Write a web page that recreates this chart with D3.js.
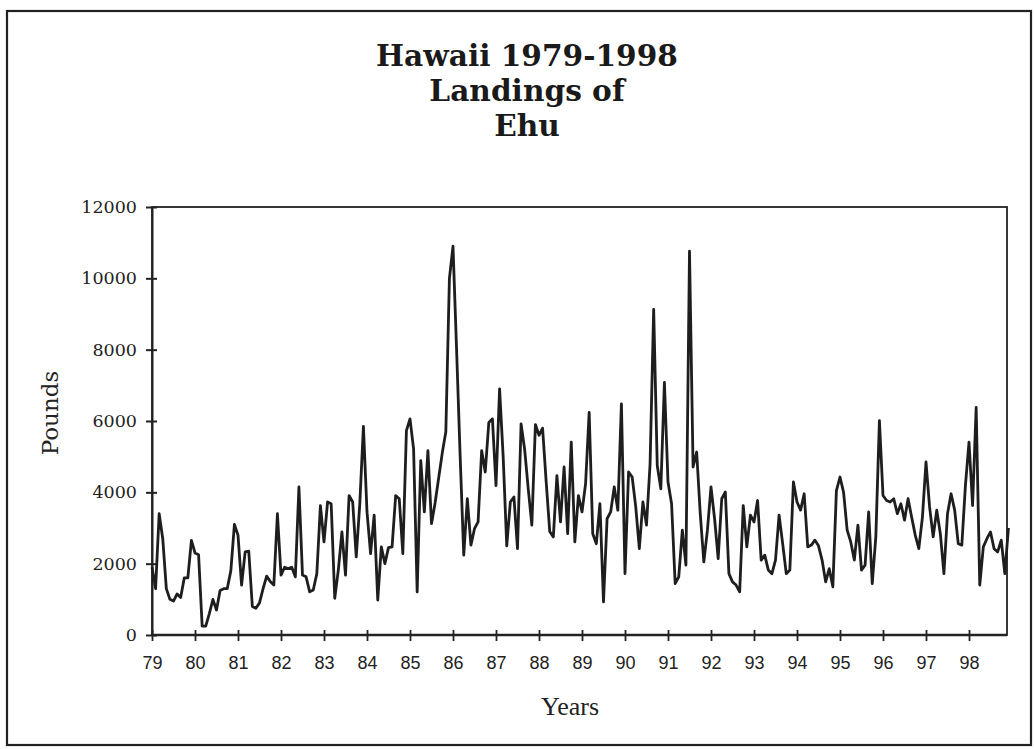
<!DOCTYPE html>
<html>
<head>
<meta charset="utf-8">
<script src="https://cdn.jsdelivr.net/npm/d3@7"></script>
<style>
  html, body { margin: 0; padding: 0; background: #fff; }
  svg { display: block; }
</style>
</head>
<body>
<svg id="chart" width="1034" height="749"></svg>
<script>
// ---- Data (monthly landings, pounds) ----
const titleLines = ["Hawaii 1979-1998", "Landings of", "Ehu"];
const yAxisTitle = "Pounds";
const xAxisTitle = "Years";
const yearTicks = [79,80,81,82,83,84,85,86,87,88,89,90,91,92,93,94,95,96,97,98];
const yTicks = [0,2000,4000,6000,8000,10000,12000];
const firstYear = 79;

const v1979 = [1900,1300,3400,2700,1300,1000,950,1150,1050,1600,1600,2650];
const v1980 = [2300,2250,250,250,600,1000,700,1250,1300,1300,1800,3100];
const v1981 = [2800,1400,2330,2350,800,750,900,1300,1650,1500,1400,3400];
const v1982 = [1680,1900,1860,1900,1630,4150,1680,1630,1210,1260,1720,3630];
const v1983 = [2610,3730,3680,1030,1820,2890,1680,3910,3730,2190,3700,5850];
const v1984 = [3450,2280,3360,980,2470,2000,2450,2470,3910,3820,2280,5730];
const v1985 = [6060,5220,1210,4890,3450,5170,3120,3700,4400,5100,5700,10000];
const v1986 = [10900,8000,5000,2240,3820,2520,2980,3170,5170,4570,5960,6060];
const v1987 = [4190,6900,5000,2500,3730,3870,2420,5920,5200,4100,3080,5900];
const v1988 = [5600,5800,4300,2900,2750,4470,3170,4710,2840,5410,2610,3910];
const v1989 = [3450,4240,6240,2840,2560,3680,930,3260,3450,4150,3500,6480];
const v1990 = [1720,4570,4430,3590,2420,3730,3080,4800,9130,4750,4100,7080];
const v1991 = [4290,3680,1440,1630,2940,1960,10760,4710,5130,3400,2050,2940];
const v1992 = [4150,3260,2140,3820,4010,1720,1490,1400,1210,3630,2470,3360];
const v1993 = [3170,3770,2100,2240,1820,1720,2100,3360,2560,1720,1820,4290];
const v1994 = [3730,3500,3960,2470,2520,2660,2500,2100,1490,1860,1350,4050];
const v1995 = [4430,4000,2940,2610,2100,3080,1820,1960,3450,1440,2750,6010];
const v1996 = [3910,3770,3730,3820,3400,3680,3220,3820,3300,2800,2420,3300];
const v1997 = [4850,3590,2750,3500,2840,1720,3400,3960,3500,2560,2520,4190];
const v1998 = [5410,3630,6380,1400,2470,2700,2890,2420,2330,2660,1720,3000];

const yearly = [v1979,v1980,v1981,v1982,v1983,v1984,v1985,v1986,v1987,v1988,
                v1989,v1990,v1991,v1992,v1993,v1994,v1995,v1996,v1997,v1998];
const series = [];
yearly.forEach((arr, yi) => arr.forEach((v, mi) => series.push({t: firstYear + yi + mi / 12, v})));

// ---- Layout ----
const svg = d3.select("#chart");
const plot = {left: 152, right: 1007, top: 207, bottom: 635};

const x = d3.scaleLinear().domain([79, 99]).range([plot.left, plot.left + 20 * 43.0]);
const y = d3.scaleLinear().domain([0, 12000]).range([plot.bottom, plot.top]);

// outer frame
svg.append("rect")
  .attr("x", 7).attr("y", 11).attr("width", 1024).attr("height", 734)
  .attr("fill", "none").attr("stroke", "#222").attr("stroke-width", 2.2);

// title
const serifBold = "'DejaVu Serif', serif";
const title = svg.append("g");
const titleY = [66, 101, 136];
titleLines.forEach((s, i) => {
  title.append("text")
    .attr("x", 527).attr("y", titleY[i])
    .attr("text-anchor", "middle")
    .attr("font-family", serifBold)
    .attr("font-weight", "bold")
    .attr("font-size", 24)
    .attr("fill", "#1a1a1a")
    .text(s);
});
{
  const first = title.select("text").node();
  const w = first.getComputedTextLength();
  const fs = 24 * 302 / w;
  title.selectAll("text").attr("font-size", fs);
}

// plot box
svg.append("rect")
  .attr("x", plot.left).attr("y", plot.top)
  .attr("width", plot.right - plot.left).attr("height", plot.bottom - plot.top)
  .attr("fill", "none").attr("stroke", "#222").attr("stroke-width", 1.8);

// Y axis
const yAxis = d3.axisLeft(y).tickValues(yTicks).tickSize(0).tickPadding(15).tickFormat(d3.format("d"));
const gy = svg.append("g").attr("transform", `translate(${plot.left},0)`).call(yAxis);
gy.select(".domain").attr("stroke", "#222").attr("stroke-width", 2);
gy.selectAll(".tick text")
  .attr("font-family", "'DejaVu Serif', serif")
  .attr("font-size", 17.5)
  .attr("fill", "#222");
gy.selectAll(".tick").append("line")
  .attr("x1", -6).attr("x2", 5).attr("stroke", "#222").attr("stroke-width", 2);

// X axis
const xAxis = d3.axisBottom(x).tickValues(yearTicks).tickSize(0).tickPadding(21).tickFormat(d => d);
const gx = svg.append("g").attr("transform", `translate(0,${plot.bottom})`).call(xAxis);
gx.select(".domain").remove();
gx.append("line").attr("x1", plot.left).attr("x2", plot.right)
  .attr("stroke", "#222").attr("stroke-width", 2.4);
gx.selectAll(".tick text")
  .attr("font-family", "'Liberation Sans Narrow', 'Liberation Sans', sans-serif")
  .attr("font-size", 18)
  .attr("fill", "#222");
gx.selectAll(".tick").append("line")
  .attr("y1", -5).attr("y2", 6).attr("stroke", "#222").attr("stroke-width", 1.8);

// axis titles
svg.append("text")
  .attr("transform", `translate(58,${(plot.top + plot.bottom) / 2 - 8}) rotate(-90)`)
  .attr("text-anchor", "middle")
  .attr("font-family", "'DejaVu Serif', serif")
  .attr("font-size", 23)
  .attr("fill", "#222")
  .text(yAxisTitle);

svg.append("text")
  .attr("x", 570).attr("y", 715)
  .attr("text-anchor", "middle")
  .attr("font-family", "'Liberation Serif', serif")
  .attr("font-size", 26)
  .attr("fill", "#222")
  .text(xAxisTitle);

// line
const line = d3.line().x(d => x(d.t)).y(d => y(d.v));
svg.append("path")
  .datum(series)
  .attr("d", line)
  .attr("fill", "none")
  .attr("stroke", "#1e1e1e")
  .attr("stroke-width", 2.8)
  .attr("stroke-linejoin", "round");
</script>
</body>
</html>
